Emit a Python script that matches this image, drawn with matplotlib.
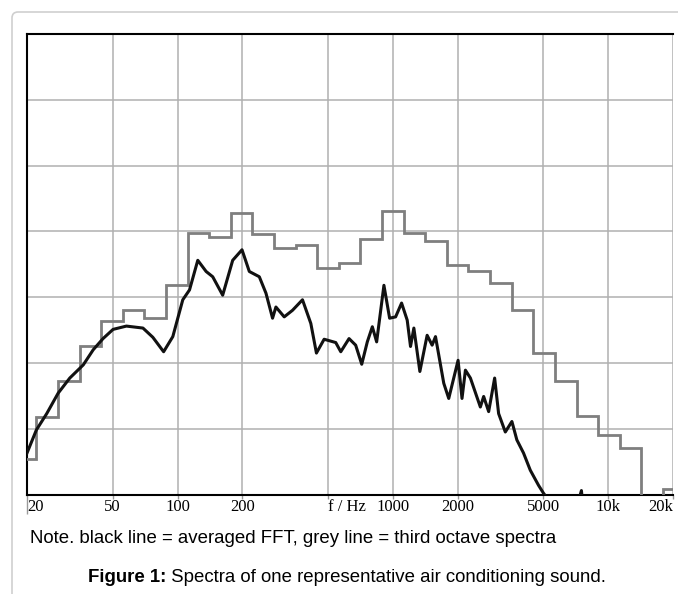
import numpy as np
import matplotlib
matplotlib.use('Agg')
import matplotlib.pyplot as plt
from matplotlib.patches import FancyBboxPatch
from matplotlib.transforms import IdentityTransform

# third octave bands (nominal centre frequencies, Hz) and levels (dB, 10 dB per grid step)
band_fc = [20, 25, 31.5, 40, 50, 63, 80, 100, 125, 160, 200, 250, 315, 400, 500,
           630, 800, 1000, 1250, 1600, 2000, 2500, 3150, 4000, 5000, 6300, 8000,
           10000, 12500, 16000, 20000]
band_level = [5.4, 11.8, 17.3, 22.6, 26.4, 28.0, 26.9, 31.8, 39.8, 39.2, 42.8, 39.6,
              37.4, 37.9, 34.5, 35.2, 38.9, 43.1, 39.8, 38.6, 34.9, 34.0, 32.2, 28.1,
              21.5, 17.2, 12.0, 9.0, 7.0, -2.0, 0.9]

# averaged FFT
fft_freq = [20, 22.1, 24.7, 27.9, 31.6, 36.5, 40.6, 45.1, 50.2, 57.9, 69.1, 76.8,
            86.2, 95.1, 105.8, 113.7, 124.2, 135.8, 145.7, 162.1, 180.4, 199.3,
            215.5, 239.8, 257.5, 276.3, 286.4, 313, 342, 380.5, 416, 441.7, 479.6,
            543, 573, 626, 672, 717, 761, 803, 841, 909, 966, 1030, 1098, 1166,
            1208, 1252, 1335, 1443, 1522, 1578, 1724, 1818, 2009, 2095, 2173, 2292,
            2549, 2641, 2786, 2970, 3099, 3329, 3572, 3766, 4045, 4347, 4748, 5007,
            5600, 7000, 7512, 7700, 9000, 20000]
fft_level = [6.3, 9.8, 12.3, 15.4, 17.7, 19.7, 22.0, 23.7, 25.1, 25.6, 25.3, 23.9,
             21.7, 24.0, 29.6, 31.1, 35.6, 33.9, 33.1, 30.3, 35.6, 37.2,
             33.9, 33.1, 30.6, 26.8, 28.5, 27.0, 28.0, 29.6, 26.0, 21.5, 23.6,
             23.1, 21.7, 23.7, 22.7, 19.8, 23.2, 25.5, 23.2, 31.8, 26.8, 27.0, 29.1, 26.5,
             22.5, 25.3, 18.7, 24.2, 22.7, 24.0, 16.9, 14.6, 20.4, 14.6, 18.9, 17.7,
             13.3, 14.9, 12.6, 17.7, 12.3, 9.5, 11.1, 8.3, 6.3, 3.7, 1.4, 0.2,
             -2.0, -3.0, 0.6, -3.0, -4.0, -8.0]

xtick_vals = [20, 50, 100, 200, 500, 1000, 2000, 5000, 10000, 20000]
xtick_labels = ['20', '50', '100', '200', '', '1000', '2000', '5000', '10k', '20k']

W, H = 678, 594
fig = plt.figure(figsize=(W / 100, H / 100), dpi=100)

# light rounded frame around the figure block
frame = FancyBboxPatch((12, -30), 720, H - 12 + 30, boxstyle='round,pad=0,rounding_size=6',
                       transform=IdentityTransform(), fill=False, ec='#cfcfcf', lw=1.2)
fig.patches.append(frame)

ax = fig.add_axes([27 / W, 1 - 494.5 / H, (673 - 27) / W, (494.5 - 34) / H])

# band edges from exact third octave centres
k = np.round(3 * np.log2(np.array(band_fc) / 1000.0))
edges = 1000.0 * 2 ** ((np.append(k - 0.5, k[-1] + 0.5)) / 3)
ax.stairs(band_level, edges, baseline=None, color='#7f7f7f', lw=2.0, zorder=3)
ax.plot(fft_freq, fft_level, color='#111111', lw=2.2, zorder=4)

ax.set_xscale('log')
ax.set_xlim(20, 20000)
ax.set_ylim(0, 70)
ax.set_yticks(range(0, 71, 10))
ax.tick_params(axis='y', left=False, labelleft=False)
ax.set_xticks(xtick_vals)
ax.set_xticklabels(xtick_labels, family='Liberation Serif', fontsize=12)
ax.xaxis.set_minor_locator(matplotlib.ticker.NullLocator())
ax.tick_params(axis='x', length=3, width=1, color='#999999', pad=0)
ticks = ax.xaxis.get_major_ticks()
ticks[0].tick1line.set_markersize(14)
ticks[0].tick1line.set_color('black')
ticks[0].label1.set_horizontalalignment('left')
ticks[-1].label1.set_horizontalalignment('right')
# axis name sits in place of the 500 label, on the same line as the numbers
ax.annotate('f / Hz', xy=(500, 0), xytext=(0, -3), textcoords='offset points',
            ha='left', va='top', family='Liberation Serif', fontsize=12)

ax.grid(True, color='#b0b0b0', lw=1.1)
ax.set_axisbelow(True)
for side in ['left', 'top', 'bottom']:
    ax.spines[side].set_color('black')
    ax.spines[side].set_linewidth(1.5)
ax.spines['right'].set_visible(False)

fig.text(30 / W, 1 - 543 / H, 'Note. black line = averaged FFT, grey line = third octave spectra',
         family='Liberation Sans', fontsize=13.4, va='baseline', ha='left')

# caption: bold part and plain part side by side, centred as a whole
renderer = fig.canvas.get_renderer()
cap_y = 1 - 581.5 / H
t1 = fig.text(0, cap_y, 'Figure 1:', family='Liberation Sans', fontsize=13.4,
              weight='bold', va='baseline')
t2 = fig.text(0, cap_y, ' Spectra of one representative air conditioning sound.',
              family='Liberation Sans', fontsize=13.4, va='baseline')
w1 = t1.get_window_extent(renderer).width
w2 = t2.get_window_extent(renderer).width
x0 = 347 - (w1 + w2) / 2
t1.set_x(x0 / W)
t2.set_x((x0 + w1) / W)

fig.savefig('out.png', dpi=100)
